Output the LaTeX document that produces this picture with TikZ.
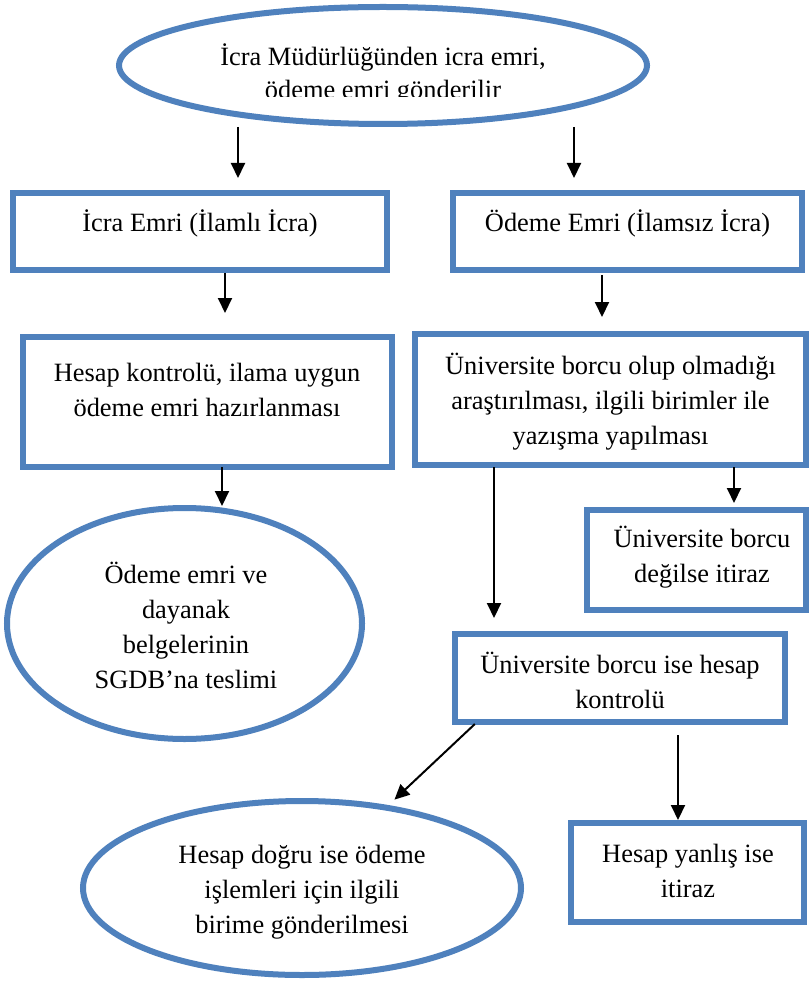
\documentclass[tikz,border=0pt]{standalone}
\usepackage{fontspec}
\setmainfont{Liberation Serif}
\usetikzlibrary{arrows.meta,shapes.geometric}
\definecolor{obl}{HTML}{4F81BD}
\tikzset{
  shp/.style={draw=obl, line width=6pt, inner sep=0pt, outer sep=0pt},
  boxshape/.style={shp, rectangle},
  ellshape/.style={shp, ellipse},
  txt/.style={inner sep=0pt, align=center, font=\fontsize{26.4pt}{35pt}\selectfont},
  arr/.style={line width=2pt, -{Triangle[width=14pt,length=15pt]}},
}
\begin{document}
\begin{tikzpicture}[x=1pt,y=-1pt]
\useasboundingbox[fill=white] (0,0) rectangle (809,981);

% shapes
\node[ellshape, minimum width=528pt, minimum height=117pt] (e0) at (383,65.5) {};
\node[boxshape, minimum width=374pt, minimum height=77pt] (b1) at (200,231.5) {};
\node[boxshape, minimum width=349pt, minimum height=77pt] (b2) at (627.5,231.5) {};
\node[boxshape, minimum width=369pt, minimum height=130pt] (b3) at (207.5,402) {};
\node[boxshape, minimum width=391pt, minimum height=131pt] (b4) at (610.5,399.5) {};
\node[ellshape, minimum width=355pt, minimum height=231pt] (e1) at (184.5,623.5) {};
\node[boxshape, minimum width=219pt, minimum height=100pt] (b5) at (696.5,560) {};
\node[boxshape, minimum width=330pt, minimum height=88pt] (b6) at (620,678) {};
\node[ellshape, minimum width=438pt, minimum height=174pt] (e2) at (302,888) {};
\node[boxshape, minimum width=233pt, minimum height=99pt] (b7) at (687.5,872.5) {};

% texts
\begin{scope}
\clip (0,0) rectangle (809,97);
\node[txt, font=\fontsize{26.4pt}{33pt}\selectfont] (t0) at (383,74) {İcra Müdürlüğünden icra emri,\\ödeme emri gönderilir};
\end{scope}
\node[txt] (t1) at (200,223) {İcra Emri (İlamlı İcra)};
\node[txt] (t2) at (627.5,223) {Ödeme Emri (İlamsız İcra)};
\node[txt] (t3) at (207,390) {Hesap kontrolü, ilama uygun\\ödeme emri hazırlanması};
\node[txt] (t4) at (610.5,402) {Üniversite borcu olup olmadığı\\araştırılması, ilgili birimler ile\\yazışma yapılması};
\node[txt] (t5) at (186,625) {Ödeme emri ve\\dayanak\\belgelerinin\\SGDB’na teslimi};
\node[txt] (t6) at (702,557) {Üniversite borcu\\değilse itiraz};
\node[txt] (t7) at (620,680) {Üniversite borcu ise hesap\\kontrolü};
\node[txt] (t8) at (302,892) {Hesap doğru ise ödeme\\işlemleri için ilgili\\birime gönderilmesi};
\node[txt] (t9) at (688,871) {Hesap yanlış ise\\itiraz};

% connectors
\draw[arr, shorten <=3pt, shorten >=15pt] ([xshift=38pt]b1.north |- e0.south) -- ([xshift=38pt]b1.north);
\draw[arr, shorten <=3pt, shorten >=15pt] ([xshift=-53.5pt]b2.north |- e0.south) -- ([xshift=-53.5pt]b2.north);
\draw[arr, shorten <=3pt, shorten >=24pt] ([xshift=17.5pt]b3.north |- b1.south) -- ([xshift=17.5pt]b3.north);
\draw[arr, shorten <=5pt, shorten >=17pt] ([xshift=-8.5pt]b4.north |- b2.south) -- ([xshift=-8.5pt]b4.north);
\draw[arr, shorten >=2pt] ([xshift=37.5pt]e1.north |- b3.south) -- ([xshift=37.5pt]e1.north);
\draw[arr, shorten <=2pt, shorten >=16pt] ([xshift=-126pt]b6.north |- b4.south) -- ([xshift=-126pt]b6.north);
\draw[arr, shorten <=2pt, shorten >=7pt] ([xshift=37.5pt]b5.north |- b4.south) -- ([xshift=37.5pt]b5.north);
\draw[arr, shorten <=3pt, shorten >=2pt] ([xshift=-143pt]b6.south) -- ([xshift=91pt]e2.north);
\draw[arr, shorten <=13pt, shorten >=3pt] ([xshift=-9.5pt]b7.north |- b6.south) -- ([xshift=-9.5pt]b7.north);
\end{tikzpicture}
\end{document}
